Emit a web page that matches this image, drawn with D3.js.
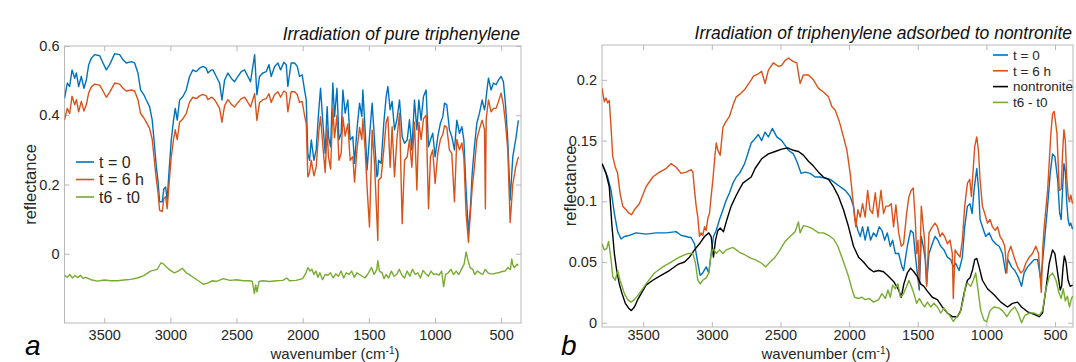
<!DOCTYPE html>
<html>
<head>
<meta charset="utf-8">
<script src="https://cdn.jsdelivr.net/npm/d3@7"></script>
<style>
  body { margin: 0; background: #fff; }
  text { font-family: "Liberation Sans", Arial, Helvetica, sans-serif; }
</style>
</head>
<body>
<div id="chart"></div>
<script>
// ---- panel a: pure triphenylene ----
const leftWn = [3800,3779,3761,3743,3723,3710,3693,3673,3653,3635,3617,3597,3572,3534,3509,3484,3459,3421,3383,3358,
  3333,3295,3270,3245,3225,3200,3182,3157,3137,3119,3106,3094,3081,3061,3049,3036,3024,3011,2993,2976,
  2963,2948,2930,2905,2880,2855,2830,2804,2779,2754,2729,2716,2691,2678,2653,2628,2610,2590,2565,2540,
  2515,2489,2464,2439,2414,2394,2363,2346,2326,2301,2275,2255,2238,2212,2187,2167,2142,2124,2112,2087,
  2061,2041,2024,2004,1986,1973,1961,1948,1935,1915,1898,1880,1865,1847,1830,1815,1805,1789,1772,1759,
  1741,1726,1709,1696,1679,1659,1641,1621,1608,1590,1570,1553,1545,1528,1513,1495,1475,1457,1439,1432,
  1427,1407,1387,1369,1356,1339,1324,1306,1288,1268,1248,1230,1210,1193,1175,1155,1137,1122,1105,1087,
  1067,1049,1034,1017,999,979,959,941,928,911,891,873,853,835,815,797,782,765,747,732,
  719,702,684,664,644,626,619,613,596,576,558,538,520,500,483,468,450,432,412,390,370];
const leftT0 = [.449,.493,.483,.531,.507,.522,.483,.512,.478,.502,.546,.565,.575,.572,.551,.531,.546,.578,.575,.560,
  .551,.555,.551,.522,.473,.459,.444,.425,.386,.309,.251,.212,.150,.150,.188,.193,.155,.232,.329,.386,
  .420,.386,.444,.454,.473,.512,.531,.526,.536,.541,.536,.522,.531,.531,.512,.493,.444,.502,.522,.507,
  .497,.512,.526,.531,.512,.497,.575,.459,.512,.522,.526,.546,.512,.541,.551,.531,.553,.546,.483,.551,
  .551,.541,.512,.517,.473,.444,.290,.270,.329,.270,.300,.406,.478,.377,.290,.425,.338,.309,.493,.396,
  .478,.329,.348,.473,.406,.444,.329,.338,.261,.358,.435,.396,.473,.358,.242,.338,.435,.329,.222,.230,
  .270,.261,.377,.454,.483,.416,.440,.358,.387,.444,.338,.319,.329,.387,.300,.444,.358,.444,.386,.454,
  .473,.309,.329,.348,.280,.338,.377,.396,.435,.430,.358,.338,.300,.386,.348,.367,.329,.184,.060,.135,
  .232,.309,.377,.406,.444,.416,.430,.454,.507,.473,.493,.488,.502,.512,.497,.435,.329,.155,.280,.330,.385];
const leftT6 = [.386,.420,.405,.455,.430,.445,.410,.440,.412,.430,.465,.482,.490,.487,.470,.452,.466,.493,.490,.478,
  .470,.473,.470,.445,.405,.392,.380,.362,.330,.262,.215,.180,.125,.122,.160,.165,.130,.195,.280,.330,
  .358,.330,.380,.390,.405,.438,.452,.448,.456,.460,.456,.445,.452,.450,.437,.420,.380,.428,.445,.432,
  .424,.437,.448,.452,.437,.424,.462,.385,.437,.445,.448,.462,.437,.460,.468,.452,.470,.465,.410,.468,
  .468,.460,.437,.440,.400,.375,.222,.235,.270,.225,.250,.345,.396,.310,.235,.360,.280,.245,.420,.335,
  .400,.270,.290,.395,.340,.375,.270,.280,.207,.300,.365,.330,.390,.300,.190,.077,.357,.260,.100,.038,
  .212,.220,.300,.380,.396,.250,.367,.222,.330,.406,.087,.270,.280,.330,.250,.380,.184,.380,.330,.390,
  .400,.130,.280,.300,.203,.290,.330,.345,.370,.365,.300,.290,.150,.330,.300,.320,.280,.116,.033,.120,
  .190,.250,.330,.360,.386,.360,.130,.390,.444,.410,.420,.420,.440,.464,.430,.380,.300,.090,.200,.250,.280];
const leftDiffWn = [3800,3780,3760,3740,3720,3700,3680,3660,3640,3600,3550,3500,3450,3400,3350,3300,3250,3200,3150,3100,
  3070,3050,3030,3000,2970,2940,2910,2880,2850,2800,2750,2720,2680,2650,2600,2550,2500,2450,2400,2380,
  2365,2355,2345,2330,2300,2250,2200,2150,2120,2100,2050,2000,1975,1960,1945,1930,1915,1900,1885,1870,
  1850,1830,1810,1790,1770,1750,1730,1710,1690,1670,1650,1630,1610,1590,1570,1550,1530,1510,1495,1480,
  1460,1440,1432,1420,1400,1385,1370,1350,1330,1310,1290,1270,1250,1230,1210,1190,1170,1150,1130,1110,
  1090,1070,1050,1030,1010,990,970,950,935,920,900,880,860,840,820,800,780,765,750,735,
  715,700,680,660,640,620,600,580,560,540,520,500,470,450,430,420,410,400,380,370];
const leftDiff = [-.062,-.068,-.060,-.070,-.063,-.069,-.062,-.071,-.068,-.075,-.079,-.076,-.078,-.078,-.076,-.074,-.070,-.063,-.050,-.045,
  -.026,-.030,-.038,-.048,-.055,-.050,-.042,-.055,-.062,-.075,-.088,-.085,-.078,-.080,-.072,-.077,-.075,-.078,-.078,-.080,
  -.115,-.090,-.110,-.080,-.078,-.080,-.078,-.077,-.070,-.078,-.077,-.072,-.055,-.040,-.050,-.045,-.060,-.050,-.068,-.055,
  -.075,-.060,-.062,-.055,-.070,-.058,-.065,-.050,-.070,-.055,-.060,-.050,-.068,-.055,-.060,-.065,-.070,-.060,-.050,-.040,
  -.060,-.045,-.020,-.050,-.055,-.072,-.060,-.070,-.050,-.065,-.060,-.045,-.062,-.070,-.050,-.065,-.045,-.060,-.055,-.070,
  -.048,-.058,-.065,-.050,-.060,-.058,-.062,-.050,-.095,-.060,-.055,-.045,-.060,-.050,-.060,-.045,-.030,.005,-.020,-.040,
  -.045,-.060,-.050,-.055,-.060,-.045,-.055,-.058,-.058,-.056,-.055,-.052,-.050,-.040,-.045,-.015,-.035,-.040,-.030,-.035];

// ---- panel b: triphenylene on nontronite ----
const rightT0Wn = [3800,3783,3759,3734,3710,3686,3661,3637,3601,3552,3479,3406,3333,3260,3224,3187,3150,3126,3102,3085,
  3066,3041,3022,3005,2988,2968,2944,2919,2895,2871,2846,2822,2798,2761,2713,2697,2661,2637,2612,2588,
  2559,2527,2491,2466,2442,2406,2381,2350,2320,2284,2247,2211,2174,2138,2101,2065,2028,1992,1968,1956,
  1936,1919,1902,1883,1863,1844,1822,1802,1780,1761,1741,1722,1700,1683,1663,1639,1615,1603,1576,1552,
  1533,1516,1503,1489,1474,1460,1445,1435,1418,1394,1374,1353,1333,1309,1284,1260,1241,1224,1199,1175,
  1158,1138,1119,1104,1090,1070,1056,1046,1029,1005,980,956,932,907,883,859,842,817,793,769,
  744,725,700,676,652,627,603,579,554,535,518,501,481,466,455,445,435,425,415,405,395,385,372];
const rightT0 = [.131,.127,.120,.109,.090,.075,.069,.071,.072,.074,.073,.074,.074,.075,.072,.071,.070,.065,.049,.039,
  .041,.046,.041,.057,.071,.076,.085,.093,.101,.107,.115,.120,.123,.131,.148,.150,.155,.150,.157,.153,
  .160,.153,.150,.146,.142,.139,.133,.123,.124,.123,.120,.120,.119,.118,.115,.112,.109,.104,.096,.085,
  .076,.071,.079,.068,.079,.068,.074,.071,.079,.076,.068,.074,.063,.068,.057,.057,.046,.043,.063,.076,
  .074,.054,.041,.027,.071,.063,.052,.032,.057,.065,.071,.068,.063,.060,.054,.052,.046,.049,.043,.054,
  .079,.096,.098,.090,.109,.127,.109,.085,.079,.071,.074,.068,.065,.063,.057,.041,.052,.046,.043,.038,
  .030,.041,.046,.049,.052,.052,.035,.065,.096,.123,.139,.137,.118,.090,.085,.110,.131,.125,.100,.085,.080,.082,.077];
const rightT6Wn = [3800,3783,3771,3759,3747,3734,3722,3703,3686,3669,3649,3625,3601,3584,3564,3528,3479,3430,3382,3333,
  3297,3260,3224,3187,3150,3138,3126,3114,3102,3090,3078,3066,3053,3041,3029,3017,3005,2992,2980,2968,
  2956,2939,2919,2895,2871,2846,2822,2798,2761,2713,2697,2661,2637,2612,2588,2552,2515,2491,2466,2442,
  2406,2381,2357,2333,2296,2260,2223,2187,2150,2126,2101,2072,2041,2016,1992,1975,1960,1951,1936,1919,
  1902,1883,1865,1848,1829,1809,1790,1768,1749,1732,1712,1693,1676,1659,1639,1620,1603,1581,1564,1547,
  1533,1518,1508,1498,1489,1474,1460,1450,1435,1418,1394,1374,1357,1338,1321,1304,1284,1265,1248,1241,
  1228,1211,1192,1175,1158,1138,1121,1109,1095,1085,1070,1058,1046,1029,1012,992,973,956,936,919,
  900,883,866,851,842,822,798,773,749,730,713,688,664,640,620,600,590,579,554,530,
  518,506,486,469,455,445,435,425,415,405,395,385,372];
const rightT6 = [.193,.182,.185,.181,.183,.161,.137,.128,.123,.107,.096,.093,.090,.089,.093,.098,.112,.120,.124,.127,
  .131,.128,.123,.124,.126,.124,.109,.096,.087,.071,.074,.072,.079,.076,.086,.090,.104,.118,.134,.148,
  .142,.138,.161,.166,.170,.179,.186,.188,.192,.200,.203,.205,.207,.197,.208,.214,.211,.212,.216,.218,
  .215,.214,.197,.204,.204,.200,.193,.190,.186,.178,.175,.166,.153,.142,.123,.104,.087,.079,.093,.087,
  .098,.087,.109,.093,.090,.107,.087,.109,.090,.096,.096,.098,.079,.097,.074,.063,.065,.090,.104,.109,
  .111,.085,.057,.068,.030,.096,.079,.068,.030,.074,.079,.082,.079,.071,.074,.071,.065,.068,.057,.020,
  .060,.057,.054,.068,.096,.115,.118,.104,.128,.145,.153,.142,.118,.096,.090,.082,.085,.079,.076,.079,
  .071,.068,.063,.041,.057,.063,.054,.046,.041,.043,.049,.054,.057,.063,.057,.025,.060,.079,.109,.156,
  .172,.174,.156,.109,.110,.140,.159,.150,.120,.105,.100,.105,.098];
const clayWn = [3800,3771,3747,3727,3710,3693,3674,3654,3630,3606,3586,3564,3540,3515,3479,3430,3370,3309,3248,3199,
  3163,3126,3090,3053,3022,3005,2988,2973,2956,2939,2915,2890,2859,2822,2774,2713,2685,2637,2588,2539,
  2491,2447,2406,2369,2333,2296,2260,2223,2187,2150,2114,2077,2041,2004,1968,1931,1895,1858,1822,1785,
  1749,1712,1676,1639,1620,1601,1576,1552,1528,1503,1479,1455,1430,1394,1357,1321,1284,1248,1211,1187,
  1163,1138,1119,1102,1085,1070,1053,1029,992,944,895,846,810,773,744,700,652,615,591,567,
  542,518,501,481,462,452,442,432,420,405,390,372];
const clay = [.131,.123,.112,.079,.057,.043,.032,.024,.016,.012,.010,.013,.019,.024,.031,.035,.039,.043,.048,.050,
  .054,.060,.065,.071,.074,.071,.054,.068,.076,.078,.075,.085,.096,.105,.115,.120,.127,.135,.139,.141,
  .143,.144,.142,.141,.138,.133,.129,.124,.120,.118,.112,.104,.093,.079,.063,.054,.050,.045,.042,.043,
  .042,.038,.034,.027,.021,.032,.041,.045,.042,.038,.032,.030,.026,.021,.019,.013,.008,.005,.005,.010,
  .024,.035,.037,.043,.052,.053,.046,.035,.028,.023,.017,.013,.016,.017,.013,.009,.007,.005,.008,.027,
  .049,.060,.057,.041,.027,.030,.045,.055,.050,.035,.030,.031];
const rightDiffWn = [3800,3783,3766,3752,3734,3722,3703,3686,3669,3654,3637,3613,3589,3564,3528,3479,3418,3357,3297,3236,
  3175,3138,3119,3102,3085,3066,3041,3022,3005,2988,2968,2944,2919,2895,2871,2846,2822,2798,2761,2713,
  2685,2637,2607,2576,2539,2503,2466,2430,2393,2369,2357,2333,2296,2260,2223,2187,2150,2114,2082,2053,
  2028,2004,1980,1960,1931,1907,1883,1853,1822,1785,1761,1736,1717,1700,1683,1663,1644,1627,1603,1581,
  1564,1547,1528,1508,1489,1469,1450,1430,1406,1382,1357,1333,1309,1284,1260,1241,1216,1192,1168,1150,
  1131,1114,1095,1078,1061,1041,1017,998,973,944,907,883,851,822,793,769,744,720,688,652,
  615,591,567,542,518,493,469,455,440,425,410,395,380,370];
const rightDiff = [.065,.060,.061,.067,.052,.038,.035,.043,.035,.030,.024,.019,.017,.019,.024,.032,.041,.046,.050,.054,
  .057,.057,.049,.035,.032,.035,.037,.041,.057,.061,.057,.060,.057,.060,.061,.062,.060,.058,.056,.053,
  .052,.049,.046,.050,.054,.060,.067,.071,.075,.083,.074,.080,.079,.077,.074,.074,.072,.069,.063,.054,
  .046,.038,.028,.021,.020,.021,.019,.020,.017,.019,.024,.020,.027,.021,.031,.028,.032,.021,.024,.030,
  .035,.030,.024,.016,.020,.016,.013,.017,.013,.016,.013,.008,.012,.008,.005,.001,.005,.008,.019,.032,
  .032,.030,.035,.041,.027,.010,.002,.001,.010,.013,.012,.010,.005,.010,.013,.008,.000,.006,.008,.008,
  .006,.010,.027,.038,.041,.035,.024,.020,.028,.018,.022,.013,.020,.022];

const xTicks = [3500, 3000, 2500, 2000, 1500, 1000, 500];

const COL = { t0: "#0072BD", t6: "#D95319", clay: "#000000", diff: "#77AC30" };
const AXIS = "#b8b8b8", INK = "#262626";

const svg = d3.select("#chart").append("svg")
  .attr("width", 1076)
  .attr("height", 362);

function drawPanel(o) {
  const x = d3.scaleLinear().domain(o.xDomain).range([o.left, o.right]);
  const y = d3.scaleLinear().domain(o.yDomain).range([o.bottom, o.top]);
  const g = svg.append("g");

  const clipId = "clip-" + o.id;
  g.append("clipPath").attr("id", clipId)
    .append("rect")
    .attr("x", o.left).attr("y", o.top)
    .attr("width", o.right - o.left).attr("height", o.bottom - o.top);

  // axes, ticks pointing inwards on all four sides
  g.append("g").attr("transform", `translate(0,${o.bottom})`)
    .call(d3.axisBottom(x).tickValues(xTicks).tickSize(-5).tickSizeOuter(0).tickPadding(o.tickPad)
      .tickFormat(d3.format("d")));
  g.append("g").attr("transform", `translate(0,${o.top})`)
    .call(d3.axisTop(x).tickValues(xTicks).tickSize(-5).tickSizeOuter(0).tickFormat(""));
  g.append("g").attr("transform", `translate(${o.left},0)`)
    .call(d3.axisLeft(y).tickValues(o.yTicks).tickSize(-5).tickSizeOuter(0).tickPadding(5)
      .tickFormat(d => String(d)));
  g.append("g").attr("transform", `translate(${o.right},0)`)
    .call(d3.axisRight(y).tickValues(o.yTicks).tickSize(-5).tickSizeOuter(0).tickFormat(""));

  g.selectAll(".domain").remove();
  g.selectAll(".tick line").attr("stroke", AXIS);
  g.selectAll(".tick text").attr("fill", INK).style("font-size", "14.5px")
    .style("font-family", '"Liberation Sans", Arial, sans-serif');

  g.append("rect")
    .attr("x", o.left).attr("y", o.top)
    .attr("width", o.right - o.left).attr("height", o.bottom - o.top)
    .attr("fill", "none").attr("stroke", AXIS).attr("stroke-width", 1);

  const line = d3.line().x(d => x(d[0])).y(d => y(d[1]));
  const lines = g.append("g").attr("clip-path", `url(#${clipId})`);
  o.series.forEach(s => {
    lines.append("path")
      .datum(d3.zip(s.wn, s.val))
      .attr("d", line)
      .attr("fill", "none")
      .attr("stroke", s.color)
      .attr("stroke-width", 1.4)
      .attr("stroke-linejoin", "round");
  });

  // title
  g.append("text")
    .attr("x", o.right - 1).attr("y", o.top - 6)
    .attr("text-anchor", "end")
    .style("font-style", "italic").style("font-size", "17.5px")
    .attr("fill", "#111")
    .text(o.title);

  // axis labels
  const xl = g.append("text")
    .attr("x", o.xLabelX).attr("y", 358.5)
    .attr("text-anchor", "middle")
    .style("font-size", "15px").attr("fill", INK);
  xl.append("tspan").text("wavenumber (cm");
  xl.append("tspan").attr("dy", -4.5).style("font-size", "10px").text("-1");
  xl.append("tspan").attr("dy", 4.5).text(")");

  g.append("text")
    .attr("transform", `translate(${o.yLabelX},${(o.top + o.bottom) / 2}) rotate(-90)`)
    .attr("text-anchor", "middle")
    .style("font-size", "16.5px").attr("fill", INK)
    .text("reflectance");

  g.append("text")
    .attr("x", o.letterX).attr("y", 355)
    .style("font-style", "italic").style("font-size", "28px")
    .attr("fill", "#000")
    .text(o.letter);

  // legend
  const lg = g.append("g");
  o.legend.items.forEach((s, i) => {
    const yy = o.legend.y + i * o.legend.step;
    lg.append("line")
      .attr("x1", o.legend.x).attr("x2", o.legend.x + o.legend.len)
      .attr("y1", yy).attr("y2", yy)
      .attr("stroke", s.color).attr("stroke-width", 1.6);
    lg.append("text")
      .attr("x", o.legend.x + o.legend.len + 5).attr("y", yy)
      .attr("dy", "0.35em")
      .style("font-size", o.legend.font).attr("fill", INK)
      .text(s.name);
  });
}

const leftSeries = [
  { name: "t = 0", wn: leftWn, val: leftT0, color: COL.t0 },
  { name: "t = 6 h", wn: leftWn, val: leftT6, color: COL.t6 },
  { name: "t6 - t0", wn: leftDiffWn, val: leftDiff, color: COL.diff }
];
drawPanel({
  id: "a", left: 64.5, right: 521, top: 46, bottom: 323,
  xDomain: [3800, 350], yDomain: [-0.2, 0.6], yTicks: [0, 0.2, 0.4, 0.6],
  series: leftSeries, tickPad: 7,
  title: "Irradiation of pure triphenylene",
  xLabelX: 335, yLabelX: 36, letter: "a", letterX: 25,
  legend: { items: leftSeries, x: 76, y: 162, step: 17.5, len: 18, font: "16px" }
});

const rightSeries = [
  { name: "t = 0", wn: rightT0Wn, val: rightT0, color: COL.t0 },
  { name: "t = 6 h", wn: rightT6Wn, val: rightT6, color: COL.t6 },
  { name: "nontronite", wn: clayWn, val: clay, color: COL.clay },
  { name: "t6 - t0", wn: rightDiffWn, val: rightDiff, color: COL.diff }
];
drawPanel({
  id: "b", left: 602, right: 1073, top: 45, bottom: 327,
  xDomain: [3800, 369], yDomain: [-0.0035, 0.2287], yTicks: [0, 0.05, 0.1, 0.15, 0.2],
  series: rightSeries, tickPad: 3,
  title: "Irradiation of triphenylene adsorbed to nontronite",
  xLabelX: 826, yLabelX: 576, letter: "b", letterX: 561,
  legend: { items: rightSeries, x: 993, y: 55, step: 15.8, len: 15, font: "13.5px" }
});
</script>
</body>
</html>
